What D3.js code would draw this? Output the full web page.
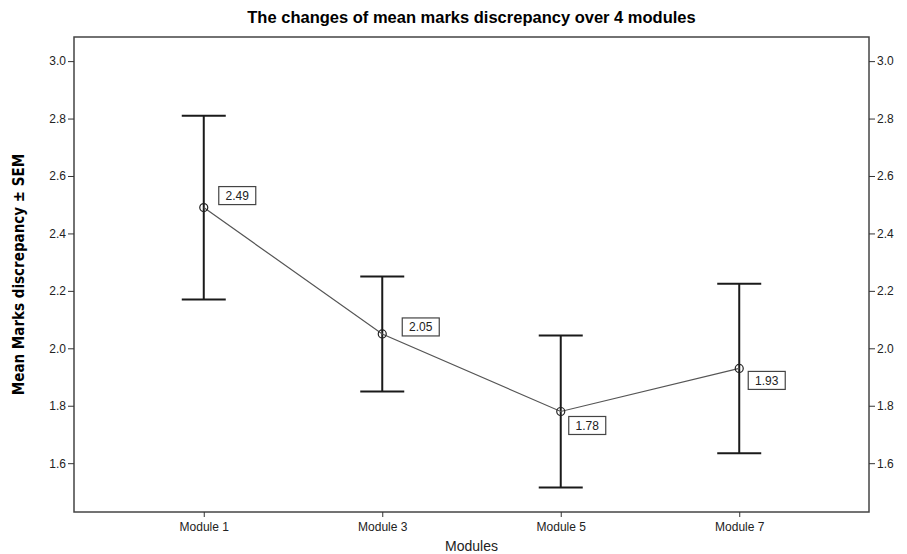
<!DOCTYPE html>
<html>
<head>
<meta charset="utf-8">
<script src="https://cdn.jsdelivr.net/npm/d3@7"></script>
<style>
  body { margin: 0; background: #fff; }
  text { font-family: "Liberation Sans", Arial, sans-serif; }
</style>
</head>
<body>
<svg id="chart"></svg>
<script>
// data
const modules = ["Module 1", "Module 3", "Module 5", "Module 7"];
const means = [2.49, 2.05, 1.78, 1.93];
const sems = [0.32, 0.20, 0.265, 0.295];
const meanLabels = ["2.49", "2.05", "1.78", "1.93"];
const yTicks = [1.6, 1.8, 2.0, 2.2, 2.4, 2.6, 2.8, 3.0];

const W = 907, H = 554;
const margin = { top: 37, right: 38, bottom: 42, left: 74 },
    width = W - margin.left - margin.right,
    height = H - margin.top - margin.bottom;

const svg = d3.select("#chart")
  .attr("width", W)
  .attr("height", H);

const g = svg.append("g")
  .attr("transform", `translate(${margin.left},${margin.top})`);

const x = d3.scalePoint()
  .domain(modules)
  .range([0, width])
  .padding(0.727);

const y = d3.scaleLinear()
  .domain([1.43, 3.084])
  .range([height, 0]);

// frame
g.append("rect")
  .attr("width", width)
  .attr("height", height)
  .attr("fill", "none")
  .attr("stroke", "#444")
  .attr("stroke-width", 1.5);

// axes
function styleAxis(sel) {
  sel.select(".domain").remove();
  sel.selectAll(".tick line").attr("stroke", "#333");
  sel.selectAll(".tick text")
    .attr("fill", "#222")
    .style("font-size", "12px");
}

g.append("g")
  .call(d3.axisLeft(y).tickValues(yTicks).tickFormat(d3.format(".1f")).tickSize(6).tickPadding(2))
  .call(styleAxis);

g.append("g")
  .attr("transform", `translate(${width},0)`)
  .call(d3.axisRight(y).tickValues(yTicks).tickFormat(d3.format(".1f")).tickSize(6).tickPadding(2))
  .call(styleAxis);

g.append("g")
  .attr("transform", `translate(0,${height})`)
  .call(d3.axisBottom(x).tickSize(5).tickPadding(5))
  .call(styleAxis);

// title
svg.append("text")
  .attr("x", margin.left + width / 2)
  .attr("y", 23)
  .attr("text-anchor", "middle")
  .style("font-size", "16.5px")
  .style("font-weight", "bold")
  .text("The changes of mean marks discrepancy over 4 modules");

// axis labels
svg.append("text")
  .attr("x", margin.left + width / 2)
  .attr("y", H - 3)
  .attr("text-anchor", "middle")
  .style("font-size", "14px")
  .attr("fill", "#222")
  .text("Modules");

svg.append("text")
  .attr("transform", `translate(24,${margin.top + height / 2}) rotate(-90)`)
  .attr("text-anchor", "middle")
  .style("font-family", "'Liberation Sans Narrow', 'DejaVu Sans Condensed', Arial, sans-serif")
  .style("font-size", "15px")
  .style("font-weight", "bold")
  .text("Mean Marks discrepancy \u00B1 SEM");

const data = modules.map((m, i) => ({ m: m, mean: means[i], sem: sems[i], label: meanLabels[i] }));

// error bars
const capW = 22;
const bars = g.append("g").selectAll("g")
  .data(data)
  .enter().append("g");

bars.append("line")
  .attr("x1", d => x(d.m))
  .attr("x2", d => x(d.m))
  .attr("y1", d => y(d.mean + d.sem))
  .attr("y2", d => y(d.mean - d.sem))
  .attr("stroke", "#1a1a1a")
  .attr("stroke-width", 2);

bars.append("line")
  .attr("x1", d => x(d.m) - capW)
  .attr("x2", d => x(d.m) + capW)
  .attr("y1", d => y(d.mean + d.sem))
  .attr("y2", d => y(d.mean + d.sem))
  .attr("stroke", "#1a1a1a")
  .attr("stroke-width", 2);

bars.append("line")
  .attr("x1", d => x(d.m) - capW)
  .attr("x2", d => x(d.m) + capW)
  .attr("y1", d => y(d.mean - d.sem))
  .attr("y2", d => y(d.mean - d.sem))
  .attr("stroke", "#1a1a1a")
  .attr("stroke-width", 2);

// mean line
g.append("path")
  .datum(data)
  .attr("fill", "none")
  .attr("stroke", "#555")
  .attr("stroke-width", 1.2)
  .attr("d", d3.line().x(d => x(d.m)).y(d => y(d.mean)));

g.append("g").selectAll("circle")
  .data(data)
  .enter().append("circle")
  .attr("cx", d => x(d.m))
  .attr("cy", d => y(d.mean))
  .attr("r", 4)
  .attr("fill", "none")
  .attr("stroke", "#222")
  .attr("stroke-width", 1.2);

// value labels (boxed), first two above-right, last two below-right
const labelOffsets = [[15, -12], [20, -7], [8, 14], [9, 12]];
const lab = g.append("g").selectAll("g")
  .data(data)
  .enter().append("g")
  .attr("transform", (d, i) => `translate(${x(d.m) + labelOffsets[i][0]},${y(d.mean) + labelOffsets[i][1]})`);

lab.append("rect")
  .attr("x", 0)
  .attr("y", -9)
  .attr("width", 37)
  .attr("height", 18)
  .attr("fill", "#fff")
  .attr("stroke", "#444")
  .attr("stroke-width", 1.2);

lab.append("text")
  .attr("x", 18.5)
  .attr("y", 0)
  .attr("dy", "0.36em")
  .attr("text-anchor", "middle")
  .style("font-size", "12px")
  .attr("fill", "#222")
  .text(d => d.label);
</script>
</body>
</html>
